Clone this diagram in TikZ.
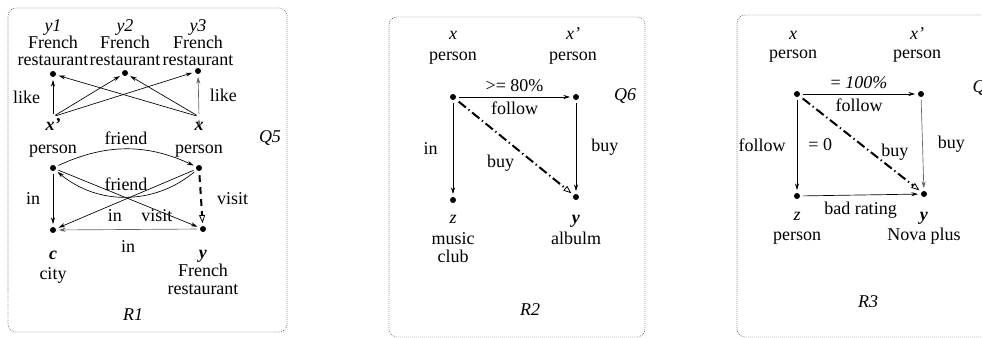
\documentclass[tikz,border=0pt]{standalone}
\usepackage{fontspec}
\setmainfont{Liberation Serif}
\usetikzlibrary{arrows.meta}

\tikzset{
  vertex/.style={circle, fill, inner sep=0pt, minimum size=4.5pt},
  lbl/.style={align=center, inner sep=1pt},
  rel/.style={-{Stealth[length=5pt,width=3pt]}, line width=0.5pt, shorten >=2pt, shorten <=2pt},
  grayrel/.style={rel, draw=black!60},
  pred/.style={-{Triangle[open,length=6pt,width=4.5pt,line width=0.6pt]}, line width=1.5pt,
    dash pattern=on 7pt off 2.5pt on 1pt off 2.5pt, shorten >=2pt, shorten <=3pt},
  dpred/.style={pred, dash pattern=on 5pt off 4pt},
  panel/.style={draw=black!70, densely dotted, rounded corners=6pt, line width=0.5pt},
}

\begin{document}
\begin{tikzpicture}[x=0.75pt, y=0.75pt, every node/.append style={font=\fontsize{13.5}{13.5}\selectfont}]
\useasboundingbox (0,0) rectangle (982,-338);

% R1 / Q5
\draw[panel] (8,-8) rectangle (287,-332);
\node[vertex] (r1y1) at (53,-74) {};
\node[vertex] (r1y2) at (125,-73) {};
\node[vertex] (r1y3) at (198,-71) {};
\node[lbl, anchor=south] (r1y1l) at (53,-67) {\textit{y1}\\[-1pt]French\\[-1pt]restaurant};
\node[lbl, anchor=south] (r1y2l) at (125,-67) {\textit{y2}\\[-1pt]French\\[-1pt]restaurant};
\node[lbl, anchor=south] (r1y3l) at (198,-67) {\textit{y3}\\[-1pt]French\\[-1pt]restaurant};
\node[vertex] (r1xp) at (53,-168) {};
\node[vertex] (r1x) at (199,-168) {};
\node[lbl, anchor=south] (r1xpl) at (53,-159) {\textbf{\textit{x'}}\\[4pt]person};
\node[lbl, anchor=south] (r1xl) at (199,-159) {\textbf{\textit{x}}\vphantom{x'}\\[4pt]person};
\node[vertex] (r1c) at (53,-230) {};
\node[vertex] (r1y) at (203,-229) {};
\node[lbl, anchor=north] (r1cl) at (53,-249) {\textbf{\textit{c}}\\[2pt]city};
\node[lbl, anchor=north] (r1yl) at (203,-249) {\textbf{\textit{y}}\\French\\restaurant};
\node (q5) at (270,-138) {\textit{Q5}};
\node (r1) at (133,-315) {\textit{R1}};

\path[rel] (r1xpl.north) edge node[left=6pt] {like} (r1y1);
\path[rel] (r1xpl.north) edge (r1y2);
\path[rel] (r1xpl.north) edge (r1y3);
\path[rel] (r1xl.north) edge (r1y1);
\path[rel] (r1xl.north) edge (r1y2);
\path[grayrel] (r1xl.north) edge node[right=5pt] {like} (r1y3);
\path[rel] (r1xp) edge[bend left=25] node[above] {friend} (r1x);
\path[rel] (r1x) edge[bend left=40] node[above=1pt] {friend} (r1xp);
\path[rel] (r1xp) edge node[left=6pt] {in} (r1c);
\path[rel] (r1x) edge node[below=1pt, pos=0.58] {in} (r1c);
\path[rel] (r1xp) edge node[pos=0.7, yshift=-4pt] {visit} (r1y);
\path[grayrel] (r1y) edge node[below=5pt] {in} (r1c);
\path[dpred] (r1x) edge node[right=8pt] {visit} (r1y);

% R2 / Q6
\draw[panel] (389,-17) rectangle (645,-337);
\node[vertex] (r2x) at (453,-97) {};
\node[vertex] (r2xp) at (576,-97) {};
\node[vertex] (r2z) at (453,-200) {};
\node[vertex] (r2y) at (576,-197) {};
\node[lbl, anchor=south] (r2xl) at (453,-66) {\textit{x}\\[2pt]person};
\node[lbl, anchor=south] (r2xpl) at (573,-66) {\textit{x'}\\[2pt]person};
\node[lbl, anchor=north] (r2zl) at (453,-214) {\textit{z}\\[2pt]music\\club};
\node[lbl, anchor=north] (r2yl) at (576,-214) {\textbf{\textit{y}}\\[2pt]albulm};
\node (q6) at (625,-96) {\textit{Q6}};
\node (r2) at (530,-310) {\textit{R2}};

\path[rel] (r2x) edge node[above] {>= 80\%} node[below] {follow} (r2xp);
\path[rel] (r2x) edge node[left=8pt] {in} (r2z);
\path[rel] (r2xp) edge node[right=8pt] {buy} (r2y);
\path[pred] (r2x) edge node[pos=0.45, xshift=-6pt, yshift=-16pt] {buy} (r2y);

% R3 / Q7
\draw[panel] (737,-15) rectangle (1000,-337);
\node[vertex] (r3x) at (797,-94) {};
\node[vertex] (r3xp) at (921,-94) {};
\node[vertex] (r3z) at (797,-196) {};
\node[vertex] (r3y) at (924,-194) {};
\node[lbl, anchor=south] (r3xl) at (793,-64) {\textit{x}\\[1pt]person};
\node[lbl, anchor=south] (r3xpl) at (917,-64) {\textit{x'}\\[1pt]person};
\node[lbl, anchor=north] (r3zl) at (797,-211) {\textit{z}\\[1pt]person};
\node[lbl, anchor=north] (r3yl) at (924,-211) {\textbf{\textit{y}}\\[1pt]Nova plus};
\node[anchor=west] (q7) at (968,-88) {\textit{Q7}};
\node (r3) at (868,-302) {\textit{R3}};

\path[rel] (r3x) edge node[above] {= \textit{100\%}} node[below] {follow} (r3xp);
\path[rel] (r3x) edge node[left=5pt] {follow} node[right=5pt] {= 0} (r3z);
\path[grayrel] (r3xp) edge node[right=8pt] {buy} (r3y);
\path[rel] (r3z) edge node[below=2pt] {bad rating} (r3y);
\path[pred] (r3x) edge node[pos=0.75, xshift=3pt, yshift=12pt] {buy} (r3y);
\end{tikzpicture}
\end{document}
